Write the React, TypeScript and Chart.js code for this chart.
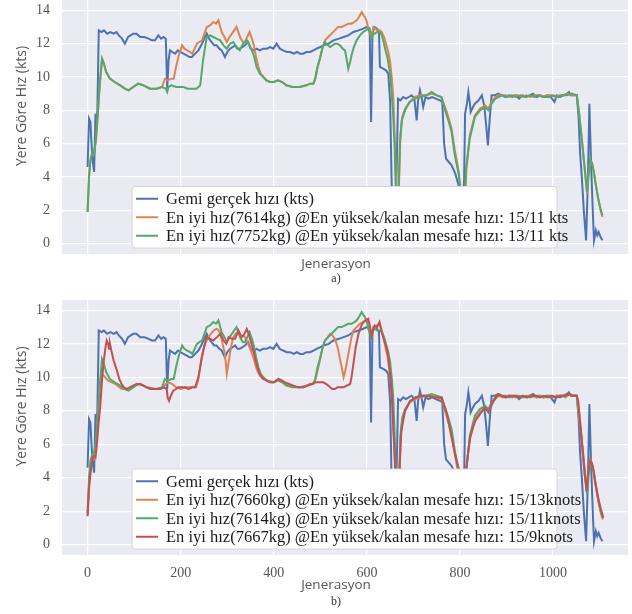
import React, { useEffect, useRef } from "react";
import { Chart, registerables } from "chart.js";

Chart.register(...registerables);

// Axis ticks and ranges
const GEN_TICKS = [0, 200, 400, 600, 800, 1000];
const SPEED_TICKS = [0, 2, 4, 6, 8, 10, 12, 14];
const GEN_MIN = -55;
const GEN_MAX = 1161;
const SPEED_MIN = -0.62;
const SPEED_MAX = 14.62;

// [generation, speed (kts)]
const gemiHizi: [number, number][] = [
  [0, 4.6], [3, 7.5], [6, 7.3], [10, 5.2], [14, 4.3], [17, 7.8], [19, 7.3], [21, 8.0], [24, 12.8],
  [30, 12.7], [35, 12.8], [42, 12.6], [49, 12.7], [56, 12.6], [62, 12.7], [67, 12.5], [74, 12.3],
  [80, 12.0], [87, 12.4], [98, 12.6], [105, 12.6], [113, 12.4], [122, 12.4], [131, 12.3], [138, 12.2],
  [145, 12.2], [152, 12.5], [158, 12.3], [163, 12.4], [168, 12.3], [171, 9.3], [174, 11.0], [177, 11.6],
  [182, 11.5], [188, 11.4], [194, 11.6], [199, 11.5], [206, 11.4], [213, 11.3], [219, 11.2], [224, 11.2],
  [231, 11.4], [238, 11.6], [244, 11.9], [249, 12.2], [256, 12.6], [261, 12.3], [266, 12.1], [272, 11.9],
  [277, 11.9], [283, 11.7], [288, 11.6], [295, 11.2], [300, 11.5], [306, 11.7], [312, 11.8], [317, 11.9],
  [322, 11.7], [327, 11.7], [333, 11.8], [338, 11.9], [345, 12.1], [350, 11.7], [357, 11.6], [363, 11.7],
  [370, 11.6], [377, 11.7], [385, 11.7], [392, 11.8], [399, 11.7], [406, 12.0], [413, 11.7], [420, 11.6],
  [428, 11.5], [435, 11.5], [443, 11.4], [450, 11.5], [456, 11.4], [463, 11.4], [470, 11.5], [478, 11.5],
  [485, 11.6], [492, 11.7], [500, 11.8], [507, 11.9], [518, 12.0], [528, 12.2], [540, 12.3], [550, 12.4],
  [560, 12.5], [571, 12.7], [582, 12.8], [592, 12.9], [600, 13.0], [606, 12.9], [609, 7.3], [612, 12.6],
  [616, 13.0], [622, 12.9], [626, 12.7], [628, 10.6], [635, 10.5], [641, 10.4], [646, 10.2], [650, 8.5],
  [653, 4.0], [656, 0.4], [660, 0.3], [664, 4.5], [667, 8.7], [672, 8.6], [678, 8.8], [684, 8.7],
  [690, 8.8], [696, 8.9], [702, 8.7], [707, 7.4], [710, 8.6], [714, 9.2], [718, 8.7], [721, 8.2],
  [726, 8.8], [732, 8.7], [740, 8.8], [748, 8.7], [757, 8.6], [762, 8.5], [766, 6.0], [770, 5.1],
  [776, 4.9], [782, 4.7], [790, 4.2], [797, 3.5], [801, 1.5], [805, 0.3], [809, 4.0], [811, 7.8],
  [815, 8.4], [818, 9.1], [821, 8.5], [823, 7.9], [828, 8.2], [832, 8.4], [840, 8.6], [847, 8.9],
  [852, 8.3], [856, 7.2], [860, 5.9], [864, 7.5], [868, 8.9], [875, 8.9], [882, 9.0], [890, 8.9],
  [897, 8.8], [905, 8.9], [912, 8.8], [920, 8.9], [927, 8.7], [935, 8.9], [942, 8.8], [950, 8.9],
  [957, 9.0], [965, 8.8], [972, 8.9], [980, 8.8], [987, 8.9], [995, 8.8], [1003, 8.5], [1008, 8.9],
  [1015, 8.8], [1022, 8.9], [1030, 9.0], [1034, 9.1], [1038, 8.9], [1045, 8.9], [1051, 8.9], [1055, 7.5],
  [1058, 5.5], [1062, 3.9], [1066, 2.0], [1071, 0.2], [1075, 4.0], [1078, 8.4], [1082, 4.5], [1086, 1.5],
  [1088, 0.2], [1092, 0.8], [1095, 0.5], [1098, 0.7], [1102, 0.4], [1106, 0.2],
];

const enIyi7614: [number, number][] = [
  [0, 1.9], [3, 4.0], [6, 5.0], [10, 5.4], [14, 5.5], [18, 6.2], [22, 7.8], [26, 9.5], [31, 11.1],
  [34, 10.9], [40, 10.3], [48, 9.9], [58, 9.7], [70, 9.5], [80, 9.3], [88, 9.2], [98, 9.4], [109, 9.6],
  [120, 9.5], [134, 9.3], [148, 9.3], [160, 9.4], [166, 9.9], [172, 9.8], [180, 9.9], [185, 9.9],
  [190, 10.6], [196, 11.3], [203, 11.9], [208, 11.7], [214, 11.6], [220, 11.5], [225, 11.4], [230, 11.7],
  [235, 12.0], [240, 12.1], [246, 12.2], [251, 12.6], [256, 13.0], [263, 13.1], [270, 13.3], [276, 13.2],
  [281, 13.4], [285, 13.0], [288, 12.7], [294, 12.4], [299, 12.1], [305, 12.4], [310, 12.6], [315, 12.8],
  [320, 13.0], [325, 12.6], [329, 12.3], [334, 12.1], [338, 12.1], [343, 12.4], [348, 12.7], [353, 12.3],
  [357, 11.9], [362, 11.2], [367, 10.6], [372, 10.2], [378, 10.0], [385, 9.8], [392, 9.7], [400, 9.7],
  [409, 9.8], [418, 9.7], [427, 9.5], [440, 9.4], [456, 9.4], [470, 9.5], [478, 9.6], [485, 9.6],
  [489, 9.9], [494, 10.6], [499, 11.1], [505, 11.8], [510, 12.2], [517, 12.4], [524, 12.6], [531, 12.8],
  [538, 13.0], [546, 13.0], [553, 13.1], [560, 13.2], [567, 13.2], [573, 13.3], [578, 13.4], [583, 13.6],
  [589, 13.9], [593, 13.7], [596, 13.6], [600, 13.3], [603, 12.9], [609, 12.4], [614, 13.0], [618, 12.9],
  [622, 12.8], [628, 12.8], [632, 12.7], [637, 12.4], [641, 12.0], [646, 11.5], [650, 10.9], [654, 9.8],
  [657, 8.6], [661, 5.5], [664, 2.5], [666, 0.6], [669, 3.5], [672, 6.5], [676, 7.6], [682, 8.1],
  [692, 8.5], [703, 8.8], [715, 8.9], [728, 8.9], [739, 9.0], [750, 8.9], [760, 8.8], [768, 8.2],
  [775, 7.6], [782, 6.9], [789, 5.6], [797, 4.4], [801, 3.4], [805, 1.5], [808, 0.5], [811, 2.5],
  [814, 4.5], [821, 6.5], [832, 7.7], [843, 8.1], [854, 8.3], [861, 8.1], [868, 8.5], [876, 8.8],
  [883, 8.9], [890, 8.9], [898, 8.9], [906, 8.8], [915, 8.9], [924, 8.9], [933, 8.8], [942, 8.9],
  [951, 8.8], [960, 8.9], [969, 8.9], [978, 8.8], [987, 8.9], [996, 8.9], [1005, 8.8], [1014, 8.9],
  [1023, 8.9], [1032, 9.0], [1041, 8.9], [1051, 8.9], [1056, 7.8], [1062, 6.2], [1068, 4.5], [1073, 3.0],
  [1077, 4.3], [1080, 5.0], [1084, 4.8], [1087, 4.4], [1092, 3.5], [1097, 2.7], [1102, 2.0], [1106, 1.6],
];

const enIyi7752: [number, number][] = [
  [0, 1.9], [3, 4.0], [6, 5.0], [10, 5.5], [14, 5.4], [18, 6.3], [22, 7.8], [26, 9.5], [31, 11.1],
  [34, 10.9], [40, 10.3], [48, 9.9], [58, 9.7], [70, 9.5], [80, 9.3], [88, 9.2], [98, 9.4], [109, 9.6],
  [120, 9.5], [134, 9.3], [148, 9.3], [160, 9.4], [168, 9.3], [171, 9.1], [174, 9.4], [180, 9.5],
  [190, 9.4], [200, 9.4], [206, 9.4], [215, 9.3], [225, 9.3], [234, 9.3], [242, 9.5], [248, 11.0],
  [256, 12.4], [263, 12.5], [270, 12.4], [277, 12.3], [285, 12.2], [292, 11.9], [299, 11.7], [306, 12.0],
  [313, 12.1], [320, 11.8], [327, 11.6], [334, 12.0], [342, 12.2], [348, 11.9], [353, 11.6], [358, 11.2],
  [363, 10.6], [370, 10.2], [377, 10.0], [384, 9.8], [391, 9.7], [400, 9.7], [409, 9.8], [418, 9.7],
  [427, 9.5], [440, 9.4], [456, 9.4], [470, 9.5], [478, 9.6], [485, 9.6], [489, 9.9], [494, 10.6],
  [499, 11.1], [505, 11.8], [510, 12.1], [516, 11.9], [521, 11.8], [526, 11.9], [531, 12.0], [537, 12.0],
  [542, 11.9], [548, 11.7], [553, 11.6], [557, 11.0], [560, 10.5], [564, 10.9], [567, 11.3], [572, 11.8],
  [578, 12.2], [585, 12.5], [592, 12.7], [598, 12.8], [603, 12.9], [607, 12.7], [610, 12.3], [614, 12.6],
  [617, 12.6], [622, 12.7], [628, 12.7], [632, 12.5], [635, 12.2], [640, 11.6], [644, 11.2], [648, 10.5],
  [651, 9.8], [656, 8.0], [660, 5.5], [663, 2.0], [665, 0.6], [668, 3.0], [671, 6.0], [675, 7.4],
  [682, 8.0], [692, 8.5], [703, 8.7], [715, 8.8], [728, 8.9], [739, 9.1], [750, 8.9], [760, 8.8],
  [768, 8.0], [775, 7.4], [782, 6.7], [789, 5.3], [797, 4.2], [800, 3.4], [804, 1.5], [807, 0.5],
  [810, 2.5], [813, 4.5], [821, 6.3], [832, 7.6], [843, 8.0], [854, 8.2], [861, 8.0], [868, 8.4],
  [876, 8.7], [883, 8.8], [890, 8.9], [900, 8.8], [910, 8.9], [920, 8.8], [930, 8.9], [940, 8.8],
  [950, 8.9], [960, 8.8], [970, 8.9], [980, 8.8], [990, 8.8], [1000, 8.9], [1010, 8.8], [1020, 8.9],
  [1030, 8.9], [1040, 9.0], [1051, 8.9], [1056, 7.8], [1062, 6.2], [1068, 4.5], [1073, 3.1], [1077, 4.5],
  [1080, 5.1], [1084, 4.8], [1087, 4.4], [1092, 3.5], [1097, 2.7], [1102, 2.1], [1106, 1.7],
];

const enIyi7660: [number, number][] = [
  [0, 1.8], [3, 3.6], [6, 4.5], [10, 5.0], [14, 5.1], [18, 6.0], [22, 7.8], [26, 9.4], [30, 10.2],
  [35, 10.1], [44, 9.8], [52, 9.7], [60, 9.6], [73, 9.3], [84, 9.3], [98, 9.5], [113, 9.6], [127, 9.4],
  [149, 9.3], [163, 9.4], [168, 9.6], [174, 9.7], [182, 9.6], [190, 9.4], [200, 9.3], [212, 9.4],
  [224, 9.4], [233, 9.4], [238, 9.9], [245, 11.2], [252, 12.0], [258, 12.3], [265, 12.6], [271, 12.8],
  [277, 12.9], [282, 12.8], [286, 12.5], [290, 12.0], [295, 11.4], [299, 10.2], [303, 10.9], [308, 11.8],
  [313, 12.4], [318, 12.6], [324, 12.7], [330, 12.4], [335, 12.5], [340, 12.3], [345, 12.0], [351, 11.6],
  [356, 11.2], [363, 10.5], [370, 10.1], [378, 9.9], [388, 9.8], [400, 9.7], [410, 9.9], [418, 9.8],
  [427, 9.6], [440, 9.5], [452, 9.4], [464, 9.4], [474, 9.5], [485, 9.6], [490, 9.9], [494, 10.4],
  [499, 11.0], [505, 11.8], [510, 12.2], [516, 12.4], [521, 12.6], [526, 12.5], [531, 12.3], [535, 12.0],
  [538, 11.7], [542, 11.1], [546, 10.6], [550, 10.0], [553, 10.3], [557, 10.9], [563, 11.8], [567, 12.4],
  [571, 12.8], [578, 13.0], [585, 13.2], [592, 13.3], [599, 13.4], [604, 13.0], [610, 12.4], [615, 12.9],
  [621, 13.1], [628, 13.2], [633, 12.7], [639, 11.9], [644, 11.3], [648, 10.5], [652, 9.4], [656, 7.8],
  [660, 5.3], [663, 2.5], [666, 0.6], [669, 3.3], [672, 6.2], [676, 7.4], [682, 8.0], [692, 8.5],
  [703, 8.7], [715, 8.8], [728, 8.9], [739, 8.9], [750, 8.8], [760, 8.7], [767, 8.1], [774, 7.4],
  [782, 6.6], [789, 5.4], [796, 4.3], [800, 3.3], [804, 1.5], [807, 0.5], [810, 2.4], [813, 4.4],
  [821, 6.3], [832, 7.5], [843, 7.9], [854, 8.2], [861, 8.0], [868, 8.4], [876, 8.7], [883, 8.9],
  [892, 8.8], [901, 8.9], [910, 8.9], [919, 8.8], [928, 8.9], [937, 8.8], [946, 8.9], [955, 8.9],
  [964, 8.8], [973, 8.9], [982, 8.8], [991, 8.9], [1000, 8.8], [1009, 8.9], [1018, 8.9], [1027, 8.8],
  [1036, 9.0], [1044, 8.9], [1051, 8.9], [1056, 7.6], [1062, 5.9], [1068, 4.2], [1072, 3.3], [1076, 4.4],
  [1079, 5.1], [1083, 4.9], [1086, 4.5], [1091, 3.6], [1097, 2.6], [1102, 2.0], [1107, 1.5],
];

const enIyi7667: [number, number][] = [
  [0, 1.7], [3, 3.3], [6, 4.2], [9, 4.8], [11, 5.2], [14, 5.3], [17, 5.2], [20, 6.0], [24, 7.4],
  [27, 8.2], [31, 9.8], [34, 10.8], [38, 11.7], [41, 12.2], [44, 12.0], [46, 11.7], [48, 12.0],
  [51, 11.6], [56, 11.0], [63, 10.4], [68, 9.9], [73, 9.6], [78, 9.4], [84, 9.3], [91, 9.4], [98, 9.5],
  [105, 9.6], [113, 9.6], [120, 9.5], [127, 9.4], [138, 9.3], [149, 9.3], [156, 9.3], [163, 9.4],
  [170, 9.3], [172, 8.8], [175, 8.6], [179, 8.9], [184, 9.2], [190, 9.3], [195, 9.4], [203, 9.4],
  [210, 9.4], [217, 9.3], [224, 9.4], [231, 9.4], [238, 10.0], [245, 11.1], [250, 11.8], [256, 12.4],
  [263, 12.3], [270, 12.2], [278, 12.4], [285, 12.6], [292, 12.2], [298, 12.0], [303, 12.4], [310, 12.3],
  [317, 12.3], [324, 12.8], [331, 12.4], [337, 12.6], [342, 12.9], [346, 12.6], [349, 12.3], [353, 11.9],
  [356, 11.6], [362, 10.9], [367, 10.4], [372, 10.1], [377, 9.9], [385, 9.8], [392, 9.7], [400, 9.7],
  [410, 9.9], [417, 9.8], [424, 9.7], [433, 9.6], [442, 9.5], [453, 9.4], [464, 9.4], [472, 9.5],
  [481, 9.6], [490, 9.7], [499, 9.7], [506, 9.7], [513, 9.6], [521, 9.4], [526, 9.3], [531, 9.3],
  [537, 9.4], [542, 9.4], [550, 9.4], [557, 9.5], [564, 9.6], [567, 10.0], [571, 10.8], [576, 11.8],
  [582, 12.6], [587, 13.0], [592, 13.3], [597, 13.4], [603, 13.5], [607, 13.0], [610, 12.5], [614, 12.9],
  [617, 13.1], [622, 13.0], [627, 13.3], [631, 12.8], [635, 12.4], [642, 11.8], [646, 11.2], [650, 10.2],
  [654, 8.8], [657, 6.8], [660, 5.0], [663, 2.5], [666, 0.6], [669, 3.0], [671, 5.0], [674, 6.8],
  [682, 8.0], [693, 8.6], [707, 8.8], [718, 8.9], [728, 8.9], [745, 8.8], [761, 8.8], [766, 8.3],
  [772, 7.8], [777, 7.1], [782, 6.4], [788, 5.6], [793, 5.0], [799, 4.4], [803, 2.0], [807, 0.6],
  [810, 2.5], [813, 4.4], [818, 5.6], [822, 6.4], [828, 7.0], [833, 7.4], [843, 7.8], [854, 8.2],
  [861, 7.9], [866, 8.2], [872, 8.6], [882, 9.0], [890, 8.9], [899, 8.8], [908, 8.9], [917, 8.9],
  [926, 8.8], [935, 8.9], [944, 8.8], [953, 8.9], [962, 8.9], [971, 8.8], [980, 8.9], [989, 8.8],
  [998, 8.9], [1007, 8.8], [1016, 8.9], [1025, 8.9], [1034, 9.0], [1043, 8.9], [1051, 8.9], [1054, 8.6],
  [1058, 7.4], [1064, 5.5], [1068, 4.2], [1072, 3.2], [1075, 4.2], [1079, 5.0], [1083, 4.9], [1086, 4.6],
  [1091, 3.7], [1097, 2.8], [1102, 2.2], [1108, 1.6],
];

const BLUE = "#4C72B0";
const ORANGE = "#DD8452";
const GREEN = "#55A868";
const RED = "#C44E52";

type Series = { label: string; points: [number, number][]; color: string };

const panelA: Series[] = [
  { label: "Gemi gerçek hızı (kts)", points: gemiHizi, color: BLUE },
  { label: "En iyi hız(7614kg) @En yüksek/kalan mesafe hızı: 15/11 kts", points: enIyi7614, color: ORANGE },
  { label: "En iyi hız(7752kg) @En yüksek/kalan mesafe hızı: 13/11 kts", points: enIyi7752, color: GREEN },
];

const panelB: Series[] = [
  { label: "Gemi gerçek hızı (kts)", points: gemiHizi, color: BLUE },
  { label: "En iyi hız(7660kg) @En yüksek/kalan mesafe hızı: 15/13knots", points: enIyi7660, color: ORANGE },
  { label: "En iyi hız(7614kg) @En yüksek/kalan mesafe hızı: 15/11knots", points: enIyi7614, color: GREEN },
  { label: "En iyi hız(7667kg) @En yüksek/kalan mesafe hızı: 15/9knots", points: enIyi7667, color: RED },
];

const TEXT_GRAY = "#555555";

// Draws the panel background, the in-plot legend and the axis captions.
const panelDecor = {
  id: "panelDecor",
  beforeDraw(chart: any) {
    const { ctx, chartArea: a } = chart;
    ctx.save();
    ctx.fillStyle = "#EAEAF2";
    ctx.fillRect(a.left, a.top, a.right - a.left, a.bottom - a.top);
    ctx.restore();
  },
  afterDatasetsDraw(chart: any) {
    const { ctx, chartArea: a } = chart;
    const sets = chart.data.datasets;
    const rowH = 18.5;
    const boxH = 6 + rowH * sets.length;
    const boxL = a.left + 70;
    const boxW = 425;
    const boxT = a.bottom - 6 - boxH;
    ctx.save();
    ctx.beginPath();
    ctx.roundRect(boxL, boxT, boxW, boxH, 3);
    ctx.fillStyle = "#ffffff";
    ctx.fill();
    ctx.strokeStyle = "#d6d6d6";
    ctx.lineWidth = 1;
    ctx.stroke();
    ctx.font = '16.5px "Liberation Serif"';
    ctx.textBaseline = "middle";
    ctx.textAlign = "left";
    sets.forEach((ds: any, i: number) => {
      const y = boxT + 3 + rowH * (i + 0.5);
      ctx.strokeStyle = ds.borderColor;
      ctx.lineWidth = 2;
      ctx.beginPath();
      ctx.moveTo(boxL + 4, y);
      ctx.lineTo(boxL + 26, y);
      ctx.stroke();
      ctx.fillStyle = "#1a1a1a";
      ctx.fillText(ds.label, boxL + 34, y + 1);
    });
    ctx.restore();
  },
  afterDraw(chart: any, _args: any, o: any) {
    const { ctx, chartArea: a } = chart;
    ctx.save();
    ctx.fillStyle = TEXT_GRAY;
    ctx.textAlign = "center";
    ctx.textBaseline = "middle";
    ctx.font = '14px "Open Sans"';
    ctx.translate(22, (a.top + a.bottom) / 2 - 21);
    ctx.rotate(-Math.PI / 2);
    ctx.fillText("Yere Göre Hız (kts)", 0, 0);
    ctx.restore();
    ctx.save();
    ctx.fillStyle = TEXT_GRAY;
    ctx.textAlign = "center";
    ctx.textBaseline = "middle";
    ctx.font = '13.5px "Open Sans"';
    ctx.fillText("Jenerasyon", 336, a.bottom + o.titleGap);
    ctx.font = '12px "Liberation Serif"';
    ctx.fillStyle = "#333333";
    ctx.fillText(o.caption, 336, a.bottom + o.captionGap);
    ctx.restore();
  },
};

type PanelProps = {
  series: Series[];
  top: number;
  height: number;
  padTop: number;
  xAxisHeight: number;
  showGenLabels: boolean;
  caption: string;
  titleGap: number;
  captionGap: number;
};

function SpeedPanel(p: PanelProps) {
  const ref = useRef<HTMLCanvasElement>(null);
  useEffect(() => {
    const n = p.series.length;
    const chart = new Chart(ref.current as HTMLCanvasElement, {
      type: "line",
      data: {
        datasets: p.series.map((s, i) => ({
          label: s.label,
          data: s.points.map(([x, y]) => ({ x, y })),
          borderColor: s.color,
          backgroundColor: s.color,
          borderWidth: 2,
          pointRadius: 0,
          tension: 0,
          order: n - i,
        })),
      },
      options: {
        responsive: false,
        animation: false,
        events: [],
        layout: { padding: { left: 0, right: 4, top: p.padTop, bottom: 0 } },
        plugins: {
          legend: { display: false },
          tooltip: { enabled: false },
          panelDecor: { caption: p.caption, titleGap: p.titleGap, captionGap: p.captionGap },
        } as any,
        scales: {
          x: {
            type: "linear",
            min: GEN_MIN,
            max: GEN_MAX,
            afterBuildTicks: (scale: any) => {
              scale.ticks = GEN_TICKS.map((v) => ({ value: v }));
            },
            afterFit: (scale: any) => {
              scale.height = p.xAxisHeight;
              scale.paddingLeft = 0;
              scale.paddingRight = 0;
            },
            grid: { color: "#ffffff", lineWidth: 1.2, drawTicks: false },
            border: { display: false },
            ticks: {
              display: p.showGenLabels,
              padding: 10,
              color: TEXT_GRAY,
              font: { family: "Liberation Serif", size: 14 },
              callback: (v: any) => String(v),
            },
          },
          y: {
            type: "linear",
            min: SPEED_MIN,
            max: SPEED_MAX,
            afterBuildTicks: (scale: any) => {
              scale.ticks = SPEED_TICKS.map((v) => ({ value: v }));
            },
            afterFit: (scale: any) => {
              scale.width = 62;
              scale.paddingTop = 0;
              scale.paddingBottom = 0;
            },
            grid: { color: "#ffffff", lineWidth: 1.2, drawTicks: false },
            border: { display: false },
            ticks: {
              padding: 12,
              color: TEXT_GRAY,
              font: { family: "Liberation Serif", size: 14 },
              callback: (v: any) => String(v),
            },
          },
        },
      },
      plugins: [panelDecor as any],
    });
    return () => chart.destroy();
  }, []);
  return (
    <canvas
      ref={ref}
      width={632}
      height={p.height}
      style={{ position: "absolute", left: 0, top: p.top, width: 632, height: p.height }}
    />
  );
}

export default function App() {
  return (
    <div style={{ position: "absolute", left: 0, top: 0, width: 632, height: 614, background: "#ffffff", overflow: "hidden" }}>
      <SpeedPanel
        series={panelA}
        top={0}
        height={292}
        padTop={0}
        xAxisHeight={38}
        showGenLabels={false}
        caption="a)"
        titleGap={10}
        captionGap={25}
      />
      <SpeedPanel
        series={panelB}
        top={290}
        height={324}
        padTop={10}
        xAxisHeight={59}
        showGenLabels={true}
        caption="b)"
        titleGap={30}
        captionGap={47}
      />
    </div>
  );
}
